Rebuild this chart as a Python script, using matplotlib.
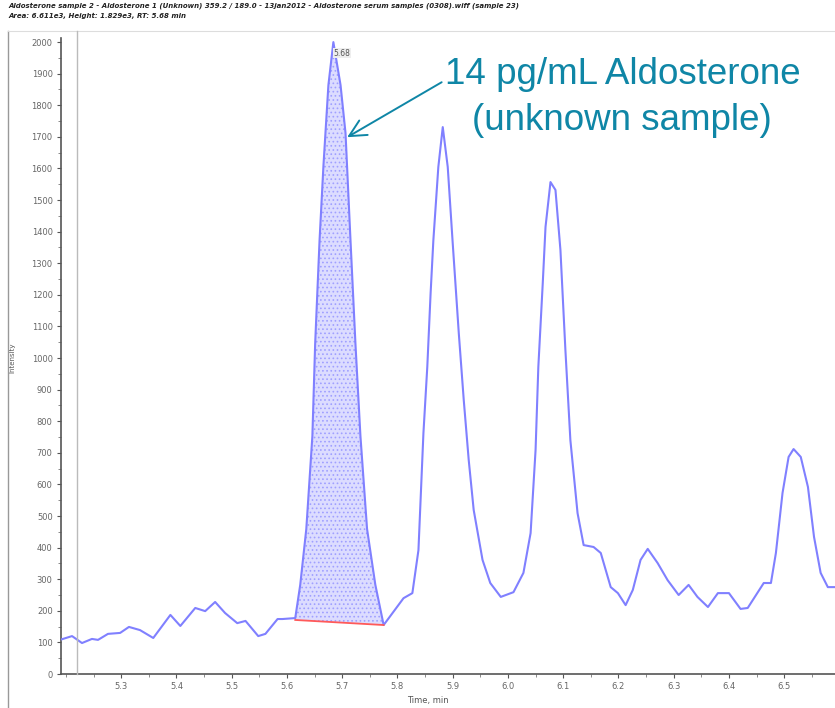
import numpy as np
import matplotlib
matplotlib.use("Agg")
import matplotlib.pyplot as plt
from matplotlib.lines import Line2D
from matplotlib.ticker import MultipleLocator, FixedLocator

# Extracted ion chromatogram, 359.2/189.0 transition
time_min = [
    5.189, 5.211, 5.229, 5.247, 5.258, 5.276, 5.298, 5.314, 5.334, 5.358,
    5.389, 5.407, 5.434, 5.452, 5.470, 5.488, 5.510, 5.525, 5.548, 5.561,
    5.583, 5.592, 5.615, 5.624, 5.635, 5.646, 5.651, 5.659, 5.666, 5.675,
    5.684, 5.697, 5.706, 5.715, 5.724, 5.733, 5.745, 5.760, 5.775, 5.811,
    5.827, 5.838, 5.847, 5.854, 5.860, 5.865, 5.874, 5.882, 5.891, 5.900,
    5.911, 5.920, 5.929, 5.938, 5.954, 5.968, 5.987, 6.010, 6.028, 6.041,
    6.050, 6.055, 6.063, 6.068, 6.077, 6.086, 6.095, 6.104, 6.113, 6.126,
    6.137, 6.155, 6.168, 6.186, 6.199, 6.213, 6.226, 6.240, 6.253, 6.271,
    6.289, 6.309, 6.327, 6.343, 6.362, 6.380, 6.400, 6.421, 6.434, 6.463,
    6.476, 6.485, 6.497, 6.508, 6.517, 6.530, 6.543, 6.554, 6.566, 6.579,
    6.593,
]
intensity = [
    108, 120, 98, 111, 108, 127, 130, 149, 139, 114,
    187, 152, 209, 199, 228, 193, 161, 168, 120, 127,
    174, 174, 177, 282, 459, 753, 1044, 1373, 1608, 1864,
    2000, 1864, 1712, 1373, 1044, 753, 459, 282, 155, 240,
    256, 392, 762, 972, 1205, 1373, 1605, 1731, 1605, 1364,
    1079, 867, 677, 519, 361, 288, 244, 259, 320, 446,
    709, 972, 1237, 1415, 1557, 1532, 1342, 1025, 740, 509,
    408, 402, 383, 275, 256, 218, 266, 361, 396, 351,
    297, 250, 282, 244, 212, 256, 256, 206, 209, 288,
    288, 383, 573, 687, 712, 687, 592, 434, 320, 275,
    275,
]

# Integrated peak: baseline end points (time, intensity)
baseline_t = [5.615, 5.775]
baseline_i = [171, 155]
peak_rt = 5.68
peak_apex = 2000

x_ticks = [5.3, 5.4, 5.5, 5.6, 5.7, 5.8, 5.9, 6.0, 6.1, 6.2, 6.3, 6.4, 6.5]
y_ticks = list(range(0, 2001, 100))

header_1 = ("Aldosterone sample 2 - Aldosterone 1 (Unknown) 359.2 / 189.0 - 13jan2012 - "
            "Aldosterone serum samples (0308).wiff (sample 23)")
header_2 = "Area: 6.611e3, Height: 1.829e3, RT: 5.68 min"

W, H = 835, 708
fig = plt.figure(figsize=(W / 100, H / 100), dpi=100)
fig.patch.set_facecolor("white")

ax = fig.add_axes([61 / W, 1 - 674 / H, (W - 61) / W + 0.002, (674 - 38) / H])
ax.set_xlim(5.191, 6.595)
ax.set_ylim(0, 2013)

line_col = "#8080ff"
t = np.array(time_min)
y = np.array(intensity)

# shaded, hatched area of the integrated peak
mask = (t >= baseline_t[0]) & (t <= baseline_t[1])
base = np.interp(t[mask], baseline_t, baseline_i)
plt.rcParams["hatch.linewidth"] = 0.7
ax.fill_between(t[mask], base, y[mask], facecolor="#dcdcff",
                edgecolor="#a0a0ff", hatch="....", linewidth=0, zorder=1)

ax.plot(t, y, color=line_col, lw=1.5, zorder=3)
ax.plot(baseline_t, baseline_i, color="#ff5a5a", lw=1.3, zorder=4)

ax.text(peak_rt + 0.004, peak_apex - 35, "5.68", fontsize=5.5, color="#555555",
        ha="left", va="center", family="Liberation Sans Narrow",
        bbox=dict(boxstyle="square,pad=0.1", fc="#eeeeee", ec="none"))

# axes styling
for s in ("top", "right"):
    ax.spines[s].set_visible(False)
for s in ("left", "bottom"):
    ax.spines[s].set_color("#555555")
    ax.spines[s].set_linewidth(1.2)

ax.xaxis.set_major_locator(FixedLocator(x_ticks))
ax.xaxis.set_minor_locator(MultipleLocator(0.05))
ax.yaxis.set_major_locator(FixedLocator(y_ticks))
ax.yaxis.set_minor_locator(MultipleLocator(50))
ax.set_xticklabels([f"{v:.1f}" for v in x_ticks])
ax.set_yticklabels([str(v) for v in y_ticks])
ax.tick_params(which="major", direction="out", length=3, width=0.8,
               color="#555555", labelsize=6, labelcolor="#666666", pad=3)
ax.tick_params(which="minor", direction="out", length=2, width=0.6, color="#777777")
for lbl in ax.get_xticklabels() + ax.get_yticklabels():
    lbl.set_family("Liberation Sans Narrow")

ax.set_xlabel("Time, min", fontsize=6, color="#555555", family="Liberation Sans Narrow",
              labelpad=2)
ax.xaxis.set_label_coords((427 - 61) / (W - 61), -0.035)
fig.text(12 / W, 1 - 358 / H, "Intensity", rotation=90, fontsize=5, color="#555555",
         ha="center", va="center", family="Liberation Sans Narrow")

# frame and cursor line
fig.add_artist(Line2D([8 / W, 8 / W], [0, 1 - 31 / H], color="#999999", lw=1.0))
fig.add_artist(Line2D([8 / W, 1], [1 - 31 / H, 1 - 31 / H], color="#dddddd", lw=0.8))
fig.add_artist(Line2D([77 / W, 77 / W], [1 - 674 / H, 1 - 31 / H], color="#bbbbbb", lw=1.0))

# header
fig.text(8 / W, 1 - 6 / H, header_1, fontsize=5, color="#222222", ha="left", va="center",
         family="Liberation Sans Narrow", weight="bold", style="italic")
fig.text(8 / W, 1 - 16 / H, header_2, fontsize=5, color="#222222", ha="left", va="center",
         family="Liberation Sans Narrow", weight="bold", style="italic")

# callout
teal = "#0f86a6"
fig.text(623 / W, 1 - 74 / H, "14 pg/mL Aldosterone", fontsize=26.5,
         color=teal, ha="center", va="center", family="Liberation Sans")
fig.text(622 / W, 1 - 121 / H, "(unknown sample)", fontsize=26.5,
         color=teal, ha="center", va="center", family="Liberation Sans")
ax.annotate("", xy=(5.709, 1699), xytext=(5.880, 1873),
            arrowprops=dict(arrowstyle="->,head_length=1.2,head_width=0.6",
                            color=teal, lw=1.4, shrinkA=0, shrinkB=0))

fig.savefig("out.png", dpi=100)
